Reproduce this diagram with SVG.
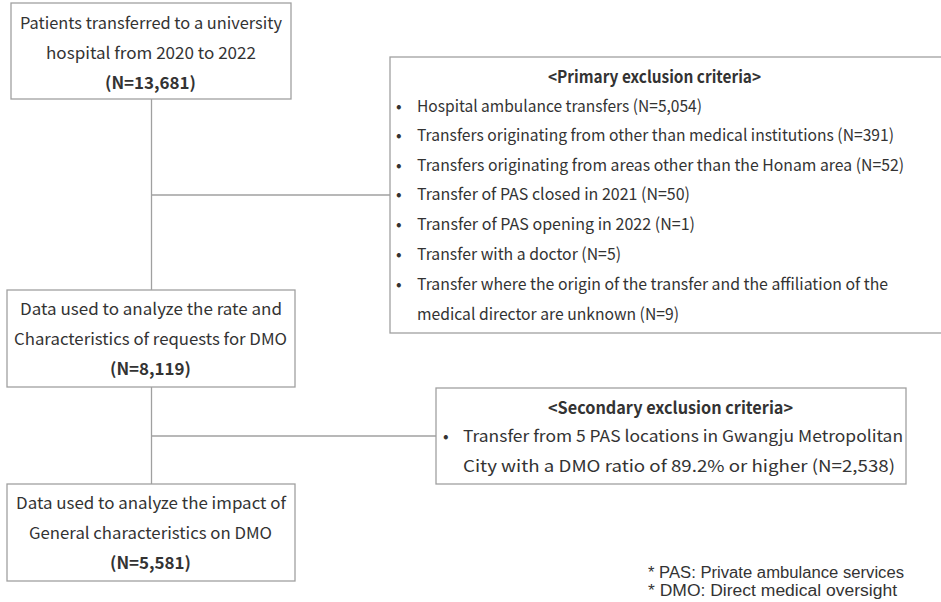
<svg xmlns="http://www.w3.org/2000/svg" width="941" height="602" viewBox="0 0 941 602">
<style>
.box{fill:#fff;stroke:#a0a0a0;stroke-width:1.3}
.ln{stroke:#a0a0a0;stroke-width:1.3;fill:none}
text{font-family:"Noto Sans CJK KR","Noto Sans",sans-serif;font-size:16.5px;fill:#333}
.b{font-weight:bold}
.n{font-family:"Liberation Sans",Arial,sans-serif;font-size:16px}
</style>
<rect width="941" height="602" fill="#fff"/>
<g id="connectors">
<line class="ln" x1="151.5" y1="99" x2="151.5" y2="290"/>
<line class="ln" x1="151.5" y1="195" x2="390" y2="195"/>
<line class="ln" x1="151.5" y1="387" x2="151.5" y2="484"/>
<line class="ln" x1="151.5" y1="436" x2="436" y2="436"/>
</g>
<g id="n1">
<rect class="box" x="11" y="3" width="280" height="96"/>
<text x="20" y="29" textLength="262" lengthAdjust="spacingAndGlyphs">Patients transferred to a university</text>
<text x="46" y="59" textLength="210" lengthAdjust="spacingAndGlyphs">hospital from 2020 to 2022</text>
<text class="b" x="105" y="89" textLength="91" lengthAdjust="spacingAndGlyphs">(N=13,681)</text>
</g>
<g id="n2">
<rect class="box" x="7" y="290" width="288" height="97"/>
<text x="20" y="315" textLength="262" lengthAdjust="spacingAndGlyphs">Data used to analyze the rate and</text>
<text x="14" y="345" textLength="273" lengthAdjust="spacingAndGlyphs">Characteristics of requests for DMO</text>
<text class="b" x="110" y="375" textLength="81" lengthAdjust="spacingAndGlyphs">(N=8,119)</text>
</g>
<g id="n3">
<rect class="box" x="7" y="484" width="288" height="97"/>
<text x="16" y="509" textLength="270" lengthAdjust="spacingAndGlyphs">Data used to analyze the impact of</text>
<text x="29" y="539" textLength="243" lengthAdjust="spacingAndGlyphs">General characteristics on DMO</text>
<text class="b" x="110" y="569" textLength="81" lengthAdjust="spacingAndGlyphs">(N=5,581)</text>
</g>
<g id="primary">
<rect class="box" x="390" y="57" width="560" height="276"/>
<text class="b" x="548" y="83" textLength="213" lengthAdjust="spacingAndGlyphs">&lt;Primary exclusion criteria&gt;</text>
<text x="396" y="112">•</text><text x="417" y="112" textLength="285" lengthAdjust="spacingAndGlyphs">Hospital ambulance transfers (N=5,054)</text>
<text x="396" y="141">•</text><text x="417" y="141" textLength="477" lengthAdjust="spacingAndGlyphs">Transfers originating from other than medical institutions (N=391)</text>
<text x="396" y="171">•</text><text x="417" y="171" textLength="487" lengthAdjust="spacingAndGlyphs">Transfers originating from areas other than the Honam area (N=52)</text>
<text x="396" y="200">•</text><text x="417" y="200" textLength="273" lengthAdjust="spacingAndGlyphs">Transfer of PAS closed in 2021 (N=50)</text>
<text x="396" y="230">•</text><text x="417" y="230" textLength="278" lengthAdjust="spacingAndGlyphs">Transfer of PAS opening in 2022 (N=1)</text>
<text x="396" y="260">•</text><text x="417" y="260" textLength="204" lengthAdjust="spacingAndGlyphs">Transfer with a doctor (N=5)</text>
<text x="396" y="290">•</text><text x="417" y="290" textLength="471" lengthAdjust="spacingAndGlyphs">Transfer where the origin of the transfer and the affiliation of the</text>
<text x="417" y="320" textLength="262" lengthAdjust="spacingAndGlyphs">medical director are unknown (N=9)</text>
</g>
<g id="secondary">
<rect class="box" x="436" y="388" width="470" height="96"/>
<text class="b" x="548" y="414" textLength="245" lengthAdjust="spacingAndGlyphs">&lt;Secondary exclusion criteria&gt;</text>
<text x="443" y="442">•</text><text x="463" y="442" textLength="440" lengthAdjust="spacingAndGlyphs">Transfer from 5 PAS locations in Gwangju Metropolitan</text>
<text x="463" y="472" textLength="432" lengthAdjust="spacingAndGlyphs">City with a DMO ratio of 89.2% or higher (N=2,538)</text>
</g>
<g id="notes">
<text class="n" x="648" y="578" textLength="256" lengthAdjust="spacingAndGlyphs">* PAS: Private ambulance services</text>
<text class="n" x="648" y="596" textLength="249" lengthAdjust="spacingAndGlyphs">* DMO: Direct medical oversight</text>
</g>
</svg>
